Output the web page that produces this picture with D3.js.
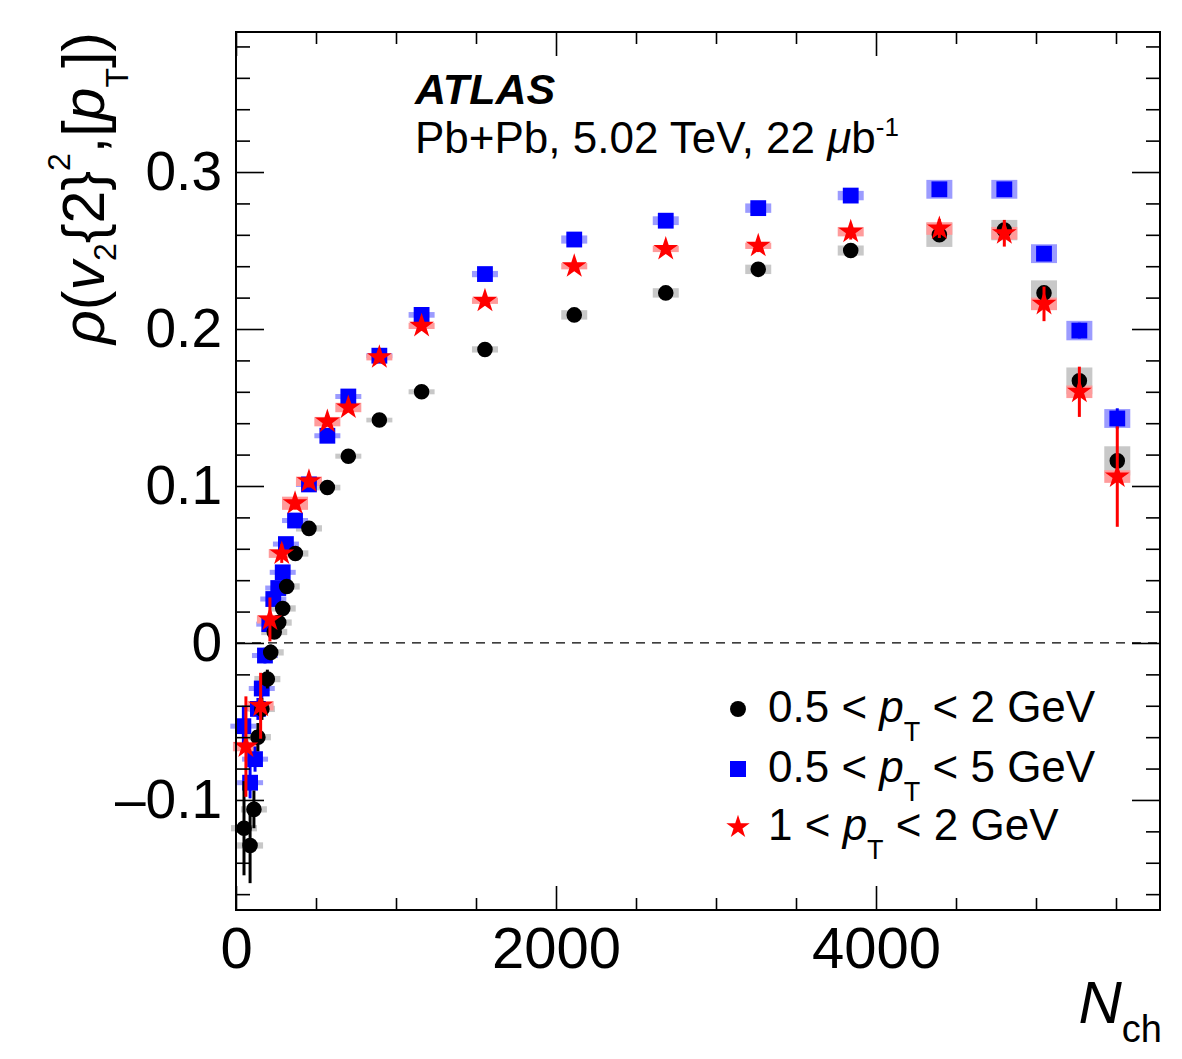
<!DOCTYPE html>
<html>
<head>
<meta charset="utf-8">
<script src="https://cdn.jsdelivr.net/npm/d3@7"></script>
<style>
    body { margin: 0; background: #fff; }
    svg text { font-family: "Liberation Sans", Arial, Helvetica, sans-serif; fill: #000; }
</style>
</head>
<body>
<svg id="chart" width="1182" height="1059"></svg>
<script>
    // 0.5 < pT < 2 GeV (black circles)
    var nchA = [50, 88, 112, 137, 162, 196, 217, 239, 267, 292, 317, 371, 456, 571, 702, 896, 1160, 1556, 2114, 2686, 3264, 3842, 4396, 4802, 5050, 5271, 5508];
    var rhoA = [-0.118, -0.129, -0.106, -0.060, -0.042, -0.023, -0.006, 0.007, 0.013, 0.022, 0.036, 0.057, 0.073, 0.099, 0.119, 0.142, 0.160, 0.187, 0.209, 0.223, 0.238, 0.250, 0.260, 0.263, 0.223, 0.167, 0.116];
    var statA = [0.030, 0.024, 0.012, 0.009, 0.007, 0.006, 0.005, 0.004, 0.004, 0.003, 0.003, 0.003, 0.002, 0.002, 0.002, 0.002, 0.002, 0.002, 0.002, 0.002, 0.002, 0.002, 0.003, 0.003, 0.003, 0.004, 0.005];
    var sysA = [0.002, 0.002, 0.002, 0.002, 0.002, 0.002, 0.002, 0.002, 0.002, 0.002, 0.002, 0.002, 0.002, 0.0018, 0.0016, 0.0015, 0.0016, 0.002, 0.003, 0.003, 0.003, 0.0032, 0.0077, 0.0065, 0.008, 0.0085, 0.0093];

    // 0.5 < pT < 5 GeV (blue squares)
    var nchB = [46, 88, 119, 137, 161, 181, 208, 233, 264, 292, 312, 369, 456, 571, 702, 896, 1160, 1556, 2114, 2686, 3264, 3842, 4396, 4802, 5050, 5271, 5508];
    var rhoB = [-0.053, -0.089, -0.074, -0.042, -0.029, -0.008, 0.012, 0.028, 0.035, 0.045, 0.063, 0.078, 0.101, 0.132, 0.157, 0.183, 0.209, 0.235, 0.257, 0.269, 0.277, 0.285, 0.289, 0.289, 0.248, 0.199, 0.143];
    var statB = [0.013, 0.010, 0.008, 0.007, 0.006, 0.005, 0.005, 0.004, 0.004, 0.004, 0.004, 0.003, 0.003, 0.003, 0.002, 0.002, 0.002, 0.002, 0.002, 0.002, 0.002, 0.002, 0.003, 0.003, 0.004, 0.005, 0.0065];
    var sysB = [0.0016, 0.0016, 0.0016, 0.0016, 0.0016, 0.0016, 0.0016, 0.0016, 0.0016, 0.0016, 0.0016, 0.0016, 0.0016, 0.0016, 0.0016, 0.0016, 0.0018, 0.002, 0.0026, 0.0028, 0.003, 0.003, 0.006, 0.006, 0.006, 0.0062, 0.006];

    // 1 < pT < 2 GeV (red stars)
    var nchC = [62, 154, 212, 286, 369, 456, 571, 702, 896, 1160, 1556, 2114, 2686, 3264, 3842, 4396, 4802, 5050, 5271, 5508];
    var rhoC = [-0.066, -0.040, 0.015, 0.057, 0.089, 0.103, 0.141, 0.150, 0.182, 0.202, 0.218, 0.240, 0.251, 0.253, 0.262, 0.264, 0.261, 0.216, 0.160, 0.106];
    var statC = [0.032, 0.021, 0.014, 0.006, 0.004, 0.004, 0.003, 0.003, 0.003, 0.003, 0.003, 0.003, 0.003, 0.004, 0.005, 0.006, 0.0085, 0.011, 0.016, 0.032];
    var sysC = [0.003, 0.003, 0.0026, 0.0028, 0.0042, 0.003, 0.003, 0.003, 0.002, 0.002, 0.002, 0.002, 0.002, 0.002, 0.003, 0.004, 0.004, 0.004, 0.004, 0.004];

    var xTicks = [0, 2000, 4000];
    var yTicks = [-0.1, 0, 0.1, 0.2, 0.3];
    var legendPre = ["0.5 < ", "0.5 < ", "1 < "];
    var legendPost = [" < 2 GeV", " < 5 GeV", " < 2 GeV"];

    var font = '"Liberation Sans", Arial, Helvetica, sans-serif';
    var svg = d3.select("#chart");

    var x = d3.scaleLinear().domain([0, 5775]).range([236, 1160]);
    var y = d3.scaleLinear().domain([-0.1701, 0.3892]).range([910, 32]);

    var series = [
        {nch: nchB, rho: rhoB, stat: statB, sys: sysB, color: "#0000ff", box: "#9b9bff", shape: d3.symbolSquare, size: 250},
        {nch: nchA, rho: rhoA, stat: statA, sys: sysA, color: "#000000", box: "#c8c8c8", shape: d3.symbolCircle, size: 190},
        {nch: nchC, rho: rhoC, stat: statC, sys: sysC, color: "#ff0000", box: "#ff9b9b", shape: d3.symbolStar, size: 190}
    ];
    var legendOrder = [1, 0, 2];

    // zero line
    svg.append("line")
        .attr("x1", x.range()[0]).attr("x2", x.range()[1])
        .attr("y1", y(0)).attr("y2", y(0))
        .attr("stroke", "#000").attr("stroke-width", 1.3)
        .attr("stroke-dasharray", "9,7");

    // systematic boxes
    var boxHalf = 13;
    series.forEach(function (s) {
        svg.append("g").selectAll("rect")
            .data(s.nch)
            .enter().append("rect")
            .attr("x", function (d) { return x(d) - boxHalf; })
            .attr("width", boxHalf * 2)
            .attr("y", function (d, i) { return y(s.rho[i] + s.sys[i]); })
            .attr("height", function (d, i) { return y(s.rho[i] - s.sys[i]) - y(s.rho[i] + s.sys[i]); })
            .attr("fill", s.box);
    });

    // error bars and markers
    series.forEach(function (s) {
        var g = svg.append("g");
        g.selectAll("line")
            .data(s.nch)
            .enter().append("line")
            .attr("x1", function (d) { return x(d); })
            .attr("x2", function (d) { return x(d); })
            .attr("y1", function (d, i) { return y(s.rho[i] - s.stat[i]); })
            .attr("y2", function (d, i) { return y(s.rho[i] + s.stat[i]); })
            .attr("stroke", s.color).attr("stroke-width", 3);
        g.selectAll("path")
            .data(s.nch)
            .enter().append("path")
            .attr("d", d3.symbol(s.shape, s.size))
            .attr("transform", function (d, i) { return "translate(" + x(d) + "," + y(s.rho[i]) + ")"; })
            .attr("fill", s.color);
    });

    // axes
    function clean(g, fs) {
        g.select(".domain").remove();
        g.attr("font-family", font).attr("font-size", fs);
        g.selectAll(".tick line").attr("stroke", "#000").attr("stroke-width", 1.6);
        g.selectAll(".tick text").attr("fill", "#000");
    }
    var xMinor = d3.range(500, 5775, 500).filter(function (v) { return v % 2000 !== 0; });
    var yMinor = d3.range(-8, 20).filter(function (i) { return i % 5 !== 0; }).map(function (i) { return i / 50; });
    var yFmt = function (d) { return d === 0 ? "0" : d < 0 ? "\u2013" + d3.format(".1f")(-d) : d3.format(".1f")(d); };

    svg.append("g").attr("transform", "translate(0,910)")
        .call(d3.axisBottom(x).tickValues(xTicks).tickSize(-24).tickPadding(17).tickFormat(d3.format("d")))
        .call(clean, 58);
    svg.append("g").attr("transform", "translate(0,910)")
        .call(d3.axisBottom(x).tickValues(xMinor).tickSize(-12).tickFormat(""))
        .call(clean, 10);
    svg.append("g").attr("transform", "translate(0,32)")
        .call(d3.axisTop(x).tickValues(xTicks).tickSize(-24).tickFormat(""))
        .call(clean, 10);
    svg.append("g").attr("transform", "translate(0,32)")
        .call(d3.axisTop(x).tickValues(xMinor).tickSize(-12).tickFormat(""))
        .call(clean, 10);
    svg.append("g").attr("transform", "translate(236,0)")
        .call(d3.axisLeft(y).tickValues(yTicks).tickSize(-28).tickPadding(14).tickFormat(yFmt))
        .call(clean, 55);
    svg.append("g").attr("transform", "translate(236,0)")
        .call(d3.axisLeft(y).tickValues(yMinor).tickSize(-14).tickFormat(""))
        .call(clean, 10);
    svg.append("g").attr("transform", "translate(1160,0)")
        .call(d3.axisRight(y).tickValues(yTicks).tickSize(-28).tickFormat(""))
        .call(clean, 10);
    svg.append("g").attr("transform", "translate(1160,0)")
        .call(d3.axisRight(y).tickValues(yMinor).tickSize(-14).tickFormat(""))
        .call(clean, 10);

    // frame
    svg.append("rect")
        .attr("x", 236).attr("y", 32).attr("width", 924).attr("height", 878)
        .attr("fill", "none").attr("stroke", "#000").attr("stroke-width", 2);

    // x title
    var xt = svg.append("text").attr("x", 1162).attr("y", 1023).attr("text-anchor", "end").attr("font-size", 60);
    xt.append("tspan").attr("font-style", "italic").text("N");
    xt.append("tspan").attr("font-size", 38).attr("dy", 19).text("ch");

    // y title
    var yt = svg.append("text").attr("transform", "translate(104,32) rotate(-90)")
        .attr("text-anchor", "end").attr("font-size", 59);
    yt.append("tspan").attr("font-style", "italic").text("\u03c1");
    yt.append("tspan").text("(");
    yt.append("tspan").attr("font-style", "italic").text("v");
    yt.append("tspan").attr("font-size", 32).attr("dy", 12).text("2");
    yt.append("tspan").attr("dy", -12).text("{2}");
    yt.append("tspan").attr("font-size", 32).attr("dy", -34).text("2");
    yt.append("tspan").attr("dy", 34).text(",[");
    yt.append("tspan").attr("font-style", "italic").text("p");
    yt.append("tspan").attr("font-size", 32).attr("dy", 24).text("T");
    yt.append("tspan").attr("dy", -24).text("])");

    // labels
    svg.append("text").attr("x", 415).attr("y", 104)
        .attr("font-size", 43).attr("font-weight", "bold").attr("font-style", "italic")
        .text("ATLAS");
    var lum = svg.append("text").attr("x", 415).attr("y", 153).attr("font-size", 44);
    lum.append("tspan").text("Pb+Pb, 5.02 TeV, 22 ");
    lum.append("tspan").attr("font-style", "italic").text("\u03bc");
    lum.append("tspan").text("b");
    lum.append("tspan").attr("font-size", 26).attr("dy", -17).text("-1");

    // legend
    var legY = [709, 769, 827];
    legendOrder.forEach(function (si, k) {
        var s = series[si];
        svg.append("path")
            .attr("d", d3.symbol(s.shape, si === 2 ? 170 : (si === 0 ? 256 : 200)))
            .attr("transform", "translate(738," + legY[k] + ")")
            .attr("fill", s.color);
        var t = svg.append("text").attr("x", 768).attr("y", legY[k] + 13).attr("font-size", 44);
        t.append("tspan").text(legendPre[k]);
        t.append("tspan").attr("font-style", "italic").text("p");
        t.append("tspan").attr("font-size", 27).attr("dy", 19).text("T");
        t.append("tspan").attr("dy", -19).text(legendPost[k]);
    });
</script>
</body>
</html>
